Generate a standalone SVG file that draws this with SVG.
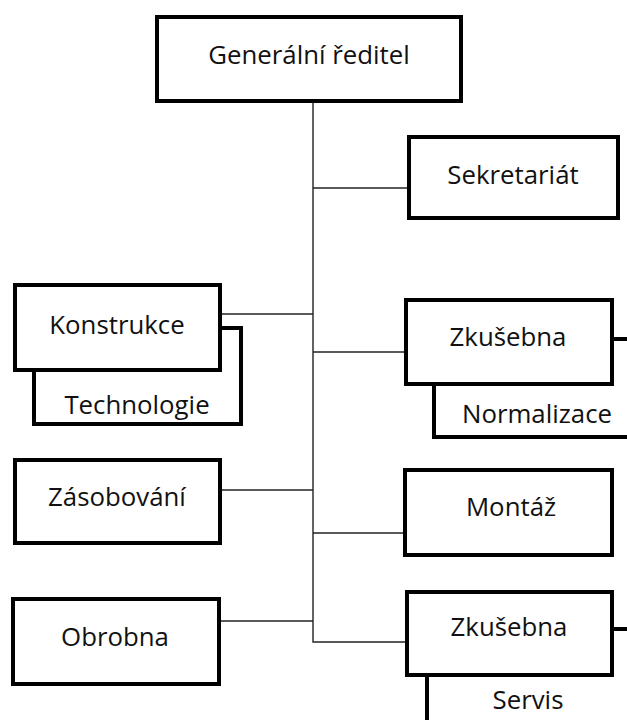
<svg xmlns="http://www.w3.org/2000/svg" width="627" height="720" viewBox="0 0 627 720">
  <style>
    .box { fill: #fff; stroke: #000; stroke-width: 4; }
    .lbl { font-family: "Open Sans", "Noto Sans", sans-serif; font-size: 25.8px; fill: #111; text-anchor: middle; }
    .link { fill: none; stroke: #222; stroke-width: 1.4; }
  </style>
  <rect width="627" height="720" fill="#fff"/>

  <!-- connectors: central trunk and branches -->
  <g id="connectors">
    <path class="link" d="M313,103 V642 H405"/>
    <path class="link" d="M313,188 H407"/>
    <path class="link" d="M222,314 H313"/>
    <path class="link" d="M313,352 H404"/>
    <path class="link" d="M222,490 H313"/>
    <path class="link" d="M313,533 H403"/>
    <path class="link" d="M221,621 H313"/>
  </g>

  <g id="generalni-reditel">
    <rect class="box" x="157" y="17" width="304" height="84"/>
    <text class="lbl" x="309" y="64">Generální ředitel</text>
  </g>

  <g id="sekretariat">
    <rect class="box" x="409" y="137" width="209" height="81"/>
    <text class="lbl" x="513" y="184">Sekretariát</text>
  </g>

  <g id="technologie">
    <rect class="box" x="34" y="328" width="207" height="96"/>
    <text class="lbl" x="137" y="414">Technologie</text>
  </g>

  <g id="konstrukce">
    <rect class="box" x="15" y="285" width="205" height="85"/>
    <text class="lbl" x="117" y="334">Konstrukce</text>
  </g>

  <g id="normalizace">
    <rect class="box" x="434" y="339" width="240" height="98"/>
    <text class="lbl" x="537" y="423">Normalizace</text>
  </g>

  <g id="zkusebna-1">
    <rect class="box" x="406" y="300" width="206" height="84"/>
    <text class="lbl" x="508" y="346">Zkušebna</text>
  </g>

  <g id="zasobovani">
    <rect class="box" x="15" y="460" width="205" height="83"/>
    <text class="lbl" x="117" y="506">Zásobování</text>
  </g>

  <g id="montaz">
    <rect class="box" x="405" y="470" width="207" height="85"/>
    <text class="lbl" x="511" y="516">Montáž</text>
  </g>

  <g id="obrobna">
    <rect class="box" x="13" y="599" width="206" height="85"/>
    <text class="lbl" x="115" y="646">Obrobna</text>
  </g>

  <g id="servis">
    <rect class="box" x="427" y="629" width="250" height="150"/>
    <text class="lbl" x="528" y="709">Servis</text>
  </g>

  <g id="zkusebna-2">
    <rect class="box" x="407" y="592" width="205" height="83"/>
    <text class="lbl" x="509" y="636">Zkušebna</text>
  </g>
</svg>
